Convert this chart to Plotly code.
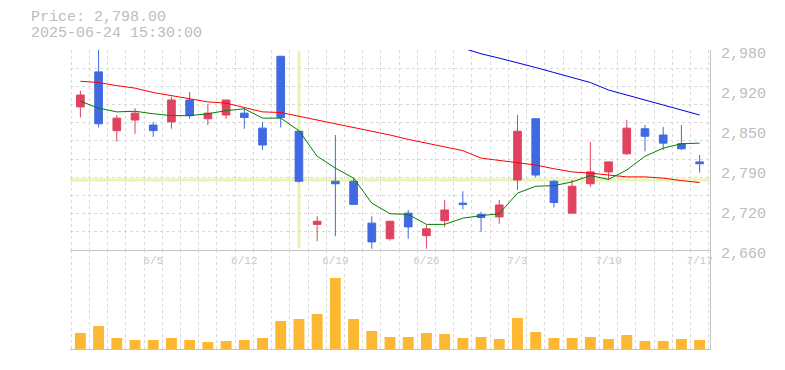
import plotly.graph_objects as go

# ---------------- data ----------------
dates = ["5/30", "6/2", "6/3", "6/4", "6/5", "6/6",
         "6/9", "6/10", "6/11", "6/12", "6/13",
         "6/16", "6/17", "6/18", "6/19", "6/20",
         "6/23", "6/24", "6/25", "6/26", "6/27",
         "6/30", "7/1", "7/2", "7/3", "7/4",
         "7/7", "7/8", "7/9", "7/10", "7/11",
         "7/14", "7/15", "7/16", "7/17"]

open_ = [2889, 2945, 2851, 2868, 2860, 2865, 2900, 2870, 2876, 2879, 2855,
         2970, 2850, 2701, 2770, 2770, 2703, 2678, 2719, 2683, 2707,
         2735, 2717, 2713, 2772, 2870, 2770, 2719, 2766, 2785, 2814,
         2854, 2844, 2830, 2801]
high = [2915, 2985, 2876, 2887, 2865, 2905, 2913, 2894, 2900, 2887, 2865,
        2970, 2851, 2714, 2844, 2775, 2714, 2706, 2724, 2700, 2740,
        2754, 2721, 2740, 2876, 2870, 2772, 2772, 2833, 2801, 2868,
        2860, 2857, 2860, 2812]
low = [2872, 2856, 2833, 2846, 2841, 2854, 2870, 2860, 2870, 2854, 2820,
       2856, 2768, 2674, 2682, 2733, 2662, 2675, 2678, 2662, 2697,
       2725, 2689, 2702, 2756, 2776, 2728, 2719, 2761, 2772, 2812,
       2818, 2820, 2820, 2784]
close = [2908, 2862, 2871, 2879, 2851, 2900, 2875, 2879, 2900, 2872, 2828,
         2872, 2770, 2706, 2766, 2733, 2673, 2706, 2697, 2694, 2724,
         2733, 2712, 2732, 2850, 2780, 2736, 2762, 2785, 2801, 2855,
         2842, 2831, 2822, 2798]

ma_short = [2898, 2887, 2881, 2882, 2878, 2875, 2875, 2878, 2883, 2886, 2871,
            2871, 2851, 2810, 2791, 2775, 2735, 2718, 2717, 2701, 2701,
            2711, 2715, 2718, 2751, 2762, 2763, 2769, 2779, 2773, 2788,
            2810, 2823, 2830, 2831]
ma_mid = [2930, 2928, 2923, 2919, 2912, 2907, 2903, 2897, 2895, 2888, 2881,
          2880, 2874, 2868, 2863, 2857, 2850, 2844, 2837, 2831, 2824,
          2819, 2807, 2803, 2800, 2796, 2790, 2785, 2783, 2780, 2777,
          2777, 2775, 2771, 2768]
ma_long = [None] * 21 + [2983, 2974, 2967, 2960, 2952, 2944, 2936, 2928,
                         2916, 2908, 2900, 2891, 2883, 2876]

volume = [16, 23, 11, 9, 9, 11, 9, 7, 8, 9, 11,
          28, 30, 35, 71, 30, 18, 12, 12, 16, 15,
          11, 12, 10, 31, 17, 11, 11, 12, 10, 14,
          8, 8, 10, 9]

date_ticks = ["6/5", "6/12", "6/19", "6/26", "7/3", "7/10", "7/17"]
price_tick_vals = [2660, 2724, 2788, 2852, 2916, 2980]
price_tick_text = ["2,660", "2,720", "2,790", "2,850", "2,920", "2,980"]

title_line1 = "Price: 2,798.00"
title_line2 = "2025-06-24 15:30:00"
cross_index = 12
cross_price = 2772

# ---------------- figure ----------------
x = list(range(len(dates)))
x_tick_vals = [dates.index(d) for d in date_ticks]

FONT = "Liberation Mono"
GRID = "#d9d9d9"
AXIS = "#c4c4c4"
TXT = "#bdbdbd"
RED = "#e0435f"
BLUE = "#4169e1"

W, H = 785, 370
ml, mt = 70, 50
plot_right, plot_bottom, price_bottom = 710, 349, 250
mr = W - plot_right
mb = H - plot_bottom
plot_h = H - mt - mb
split = (plot_bottom - price_bottom) / plot_h  # volume panel fraction
plot_w = W - ml - mr

xr = [-0.57, len(dates) - 1 + 0.57]
ylo, yhi = 2660, 2980

fig = go.Figure()

fig.add_trace(go.Scatter(x=x, y=ma_mid, mode="lines", line=dict(color="#ff0000", width=1),
                         xaxis="x", yaxis="y", hoverinfo="skip", showlegend=False))
fig.add_trace(go.Scatter(x=x, y=ma_long, mode="lines", line=dict(color="#0000e0", width=1),
                         xaxis="x", yaxis="y", hoverinfo="skip", showlegend=False))
fig.add_trace(go.Scatter(x=x, y=ma_short, mode="lines", line=dict(color="#008000", width=1),
                         xaxis="x", yaxis="y", hoverinfo="skip", showlegend=False))

fig.add_trace(go.Candlestick(
    x=x, open=open_, high=high, low=low, close=close,
    increasing=dict(line=dict(color=RED, width=1), fillcolor=RED),
    decreasing=dict(line=dict(color=BLUE, width=1), fillcolor=BLUE),
    whiskerwidth=0, xaxis="x", yaxis="y", showlegend=False))

fig.add_trace(go.Bar(x=x, y=volume, width=0.6, marker=dict(color="#fdb833", line=dict(width=0)),
                     xaxis="x2", yaxis="y2", showlegend=False))

grid_x = [k + 0.5 for k in range(-1, len(dates))]
n_grid = 11
grid_y = [ylo + (yhi - ylo) * k / n_grid for k in range(n_grid + 1)]
grid_y[-1] = yhi - 0.05

fig.update_layout(
    width=W, height=H,
    margin=dict(l=ml, r=mr, t=mt, b=mb, autoexpand=False),
    paper_bgcolor="white", plot_bgcolor="white",
    showlegend=False,
    hovermode=False,
    boxgap=0.4,
    bargap=0.4,
    font=dict(family=FONT, color=TXT),
    xaxis=dict(
        domain=[0, 1], anchor="y", range=xr,
        tickmode="array", tickvals=x_tick_vals, ticktext=date_ticks,
        tickfont=dict(size=11, color="#c8c8c8", family=FONT),
        ticks="", showgrid=False, zeroline=False,
        showline=True, linecolor=AXIS, linewidth=1,
        rangeslider=dict(visible=False),
        minor=dict(tickmode="array", tickvals=grid_x, showgrid=True,
                   gridcolor=GRID, griddash="3px,3px", gridwidth=1, ticks=""),
    ),
    yaxis=dict(
        domain=[split, 1], anchor="x", range=[ylo, yhi], side="right",
        tickmode="array", tickvals=price_tick_vals, ticktext=price_tick_text,
        tickfont=dict(size=15, color=TXT, family=FONT),
        ticks="", ticklabelstandoff=7, ticklabelshift=3,
        showgrid=False, zeroline=False,
        showline=True, linecolor=AXIS, linewidth=1,
        minor=dict(tickmode="array", tickvals=grid_y, showgrid=True,
                   gridcolor=GRID, griddash="3px,3px", gridwidth=1, ticks=""),
    ),
    xaxis2=dict(
        domain=[0, 1], anchor="y2", range=xr, matches="x",
        showticklabels=False, ticks="", showgrid=False, zeroline=False,
        showline=True, linecolor=AXIS, linewidth=1,
        minor=dict(tickmode="array", tickvals=grid_x, showgrid=True,
                   gridcolor=GRID, griddash="3px,3px", gridwidth=1, ticks=""),
    ),
    yaxis2=dict(
        domain=[0, split], anchor="x2", range=[0, 99], side="right",
        showticklabels=False, ticks="", showgrid=False, zeroline=False,
        showline=True, linecolor=AXIS, linewidth=1,
    ),
    shapes=[
        dict(type="line", xref="x", yref="y", x0=cross_index, x1=cross_index,
             y0=ylo + 3, y1=yhi - 2, line=dict(color="#e6f5b0", width=3), layer="below"),
        dict(type="line", xref="x", yref="y", x0=xr[0], x1=xr[1],
             y0=cross_price, y1=cross_price, line=dict(color="#e6f5b0", width=3), layer="below"),
    ],
    annotations=[
        dict(text=title_line1, xref="paper", yref="paper",
             x=(30 - ml) / plot_w, y=(plot_bottom - 17) / plot_h,
             xanchor="left", yanchor="middle", showarrow=False, borderpad=0,
             font=dict(size=15, color=TXT, family=FONT)),
        dict(text=title_line2, xref="paper", yref="paper",
             x=(30 - ml) / plot_w, y=(plot_bottom - 33.5) / plot_h,
             xanchor="left", yanchor="middle", showarrow=False, borderpad=0,
             font=dict(size=15, color=TXT, family=FONT)),
    ],
)

fig.write_html(
    "out.html",
    config={"displayModeBar": False},
    post_script="document.body.style.margin='0';document.body.style.overflow='hidden';",
)
